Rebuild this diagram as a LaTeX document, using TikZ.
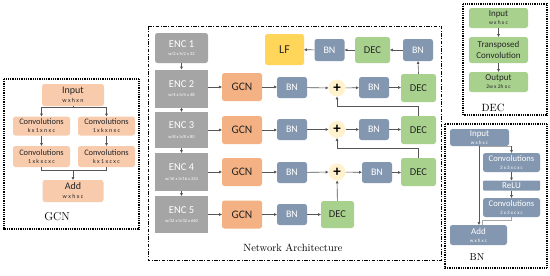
\documentclass[tikz,border=0pt]{standalone}
\usepackage{fontspec}
\newfontfamily\cb{Carlito}
\usetikzlibrary{arrows.meta,calc}
\definecolor{encgray}{HTML}{A5A5A5}
\definecolor{gcnor}{HTML}{F4B183}
\definecolor{gcnlt}{HTML}{F8CBAD}
\definecolor{bnblue}{HTML}{8497B0}
\definecolor{decgr}{HTML}{A9D18E}
\definecolor{lfyel}{HTML}{FFD55A}
\definecolor{plusyel}{HTML}{FFF2CC}
\definecolor{txt}{HTML}{262626}
\definecolor{ln}{HTML}{555555}
\newcommand\fs[1]{\fontsize{#1}{#1}\selectfont}
\newcommand\sublab[2]{{\fontsize{#1}{#1}\selectfont #2}}
\begin{document}
\begin{tikzpicture}[x=1pt,y=-1pt,
  blk/.style={rounded corners=2.5pt,inner sep=0pt,align=center},
  encbox/.style={blk,fill=encgray,text=white,minimum width=53pt,font=\cb\fs{10.5}},
  gcnbox/.style={blk,fill=gcnor,text=txt,minimum width=40pt,minimum height=28pt,font=\cb\fs{11.5}},
  bnbox/.style={blk,fill=bnblue,text=white,minimum width=30pt,minimum height=21pt,font=\cb\fs{10}},
  decbox/.style={blk,fill=decgr,text=txt,minimum width=35pt,minimum height=28pt,font=\cb\fs{10.5}},
  plusnode/.style={circle,fill=plusyel,minimum size=17pt,inner sep=0pt,font=\cb\bfseries\fs{15}},
  arr/.style={draw=ln,line width=0.6pt,-{Triangle[length=2.6pt,width=2.6pt]}},
  lne/.style={draw=ln,line width=0.6pt},
  gsub/.style={blk,fill=gcnlt,text=txt,font=\cb\fs{8.4}},
  dsub/.style={blk,fill=decgr,text=txt,font=\cb\fs{9}},
  bsub/.style={blk,fill=bnblue,text=white,font=\cb\fs{8.6}},
  dotpanel/.style={draw=black,line width=1.3pt,dash pattern=on 0.9pt off 0.9pt},
  title/.style={font=\fs{10.5}}
]
\useasboundingbox (0,0) rectangle (550,276);
\fill[white] (0,0) rectangle (550,276);

% ---------- panels ----------
\draw[draw=black,line width=0.8pt,dash pattern=on 3.5pt off 1.5pt on 1pt off 1.5pt] (148,26) rectangle (441,260);
\draw[dotpanel] (4,79) rectangle (139,229);
\draw[dotpanel] (463,4) rectangle (547,115);
\draw[dotpanel] (445,124) rectangle (547,268);

% ---------- Network architecture ----------
\node[encbox,minimum height=30pt] (e1) at (181.5,48) {ENC 1\\[-2pt]\sublab{4.5}{w/2 x h/2 x 32}};
\node[encbox,minimum height=38pt,rounded corners=0pt] (e2) at (181.5,88.5) {ENC 2\\[-1pt]\sublab{4.5}{w/4 x h/4 x 48}};
\node[encbox,minimum height=36pt,rounded corners=0pt] (e3) at (181.5,130) {ENC 3\\[-1pt]\sublab{4.5}{w/8 x h/8 x 80}};
\node[encbox,minimum height=38pt,rounded corners=0pt] (e4) at (181.5,172) {ENC 4\\[-1pt]\sublab{4.5}{w/16 x h/16 x 224}};
\node[encbox,minimum height=37pt,rounded corners=0pt] (e5) at (181.5,214.5) {ENC 5\\[-1pt]\sublab{4.5}{w/32 x h/32 x 640}};

\node[gcnbox] (g2) at (242,87) {GCN};
\node[gcnbox] (g3) at (242,130) {GCN};
\node[gcnbox] (g4) at (242,172) {GCN};
\node[gcnbox] (g5) at (242,214.5) {GCN};

\node[bnbox] (b2) at (292,87.5) {BN};
\node[bnbox] (b3) at (292,129.5) {BN};
\node[bnbox] (b4) at (292,172.5) {BN};
\node[bnbox] (b5) at (292,214.5) {BN};

\node[plusnode] (p2) at (337,88) {+};
\node[plusnode] (p3) at (337,129.5) {+};
\node[plusnode] (p4) at (337,172) {+};

\node[bnbox] (c2) at (374,87.5) {BN};
\node[bnbox] (c3) at (374,129.5) {BN};
\node[bnbox] (c4) at (377,172.5) {BN};

\node[decbox] (d2) at (418.5,88) {DEC};
\node[decbox] (d3) at (418.5,130) {DEC};
\node[decbox] (d4) at (418.5,172) {DEC};
\node[decbox,minimum width=33pt,minimum height=27pt] (d5) at (337.5,214.5) {DEC};

\node[bnbox,minimum height=22pt] (t1) at (418,50) {BN};
\node[decbox,minimum height=26pt] (t2) at (372.5,50) {DEC};
\node[bnbox,minimum height=22pt] (t3) at (329.5,50) {BN};
\node[blk,fill=lfyel,text=txt,minimum width=39pt,minimum height=31pt,font=\cb\fs{12}] (lf) at (284.5,49.5) {LF};

\node[title] (nat) at (293,248) {Network Architecture};

% encoder chain
\draw[arr] (e1) -- (e2);
\draw[arr] (e2) -- (e3);
\draw[arr] (e3) -- (e4);
\draw[arr] (e4) -- (e5);
% rows
\foreach \r in {2,3,4,5}{
  \draw[arr] (e\r.east |- g\r) -- (g\r);
  \draw[arr] (g\r) -- (g\r -| b\r.west);
}
\foreach \r in {2,3,4}{
  \draw[arr] (b\r) -- (p\r);
  \draw[arr] (p\r) -- (c\r);
  \draw[arr] (c\r) -- (c\r -| d\r.west);
}
\draw[arr] (b5) -- (d5);
\draw[arr] (d5) -- (p4);
\draw[arr] (d4.north) -- ++(0,-10) -| (p3.south);
\draw[arr] (d3.north) -- ++(0,-10) -| (p2.south);
\draw[arr] (d2.north) -- (t1.south);
\draw[arr] (t1) -- (t2);
\draw[arr] (t2) -- (t3);
\draw[arr] (t3) -- (lf);

% ---------- GCN panel ----------
\node[gsub,minimum width=62pt,minimum height=22pt,font=\cb\fs{10}] (gi) at (73,95) {Input\\[-1pt]\sublab{6}{w x h x n}};
\node[gsub,minimum width=57pt,minimum height=19pt] (gc1) at (41.5,126) {Convolutions\\[-0.5pt]\sublab{6}{k x 1 x n x c}};
\node[gsub,minimum width=57pt,minimum height=19pt] (gc2) at (106.5,126) {Convolutions\\[-0.5pt]\sublab{6}{1 x k x n x c}};
\node[gsub,minimum width=57pt,minimum height=21pt] (gc3) at (41.5,156.5) {Convolutions\\[-0.5pt]\sublab{6}{1 x k x c x c}};
\node[gsub,minimum width=57pt,minimum height=21pt] (gc4) at (106.5,156.5) {Convolutions\\[-0.5pt]\sublab{6}{k x 1 x c x c}};
\node[gsub,minimum width=61pt,minimum height=22pt,font=\cb\fs{10}] (ga) at (73,191) {Add\\[-1pt]\sublab{6}{w x h x c}};
\node[title,font=\fs{11.5}] (gl) at (57,217) {GCN};
\coordinate (gsplit) at (73,107.5);
\coordinate (gmerge) at (73,170);
\draw[lne] (gi.south) -- (gsplit);
\draw[arr] (gsplit) -| (gc1.north);
\draw[arr] (gsplit) -| (gc2.north);
\draw[arr] (gc1) -- (gc3);
\draw[arr] (gc2) -- (gc4);
\draw[lne] (gc3.south) |- (gmerge);
\draw[lne] (gc4.south) |- (gmerge);
\draw[arr] (gmerge) -- (ga.north);

% ---------- DEC panel ----------
\node[dsub,minimum width=59pt,minimum height=20pt] (di) at (498.5,18) {Input\\[-1pt]\sublab{5.5}{w x h x c}};
\node[dsub,minimum width=59pt,minimum height=26pt,font=\cb\fontsize{9}{11}\selectfont] (dt) at (498.5,50) {Transposed\\Convolution};
\node[dsub,minimum width=59pt,minimum height=20pt] (do) at (498.5,82) {Output\\[-1pt]\sublab{5.5}{2w x 2h x c}};
\node[title] (dl) at (493,108) {DEC};
\draw[arr] (di) -- (dt);
\draw[arr] (dt) -- (do);

% ---------- BN panel ----------
\node[bsub,minimum width=59pt,minimum height=17pt,font=\cb\fs{9}] (bi) at (479.5,137.5) {Input\\[-1.5pt]\sublab{5}{w x h x c}};
\node[bsub,minimum width=57pt,minimum height=19pt] (bc1) at (511.5,162.5) {Convolutions\\[-1pt]\sublab{5}{3 x 3 x c x c}};
\node[bsub,minimum width=57pt,minimum height=10pt,rounded corners=1pt,font=\cb\fs{9}] (br) at (511.5,185.5) {ReLU};
\node[bsub,minimum width=57pt,minimum height=19pt] (bc2) at (511.5,207.5) {Convolutions\\[-1pt]\sublab{5}{3 x 3 x c x c}};
\node[bsub,minimum width=57pt,minimum height=20pt,font=\cb\fs{9}] (ba) at (478.5,235) {Add\\[-1pt]\sublab{5}{w x h x c}};
\node[title,font=\fs{10}] (bl) at (477,257) {BN};
\coordinate (bsk) at (479,146);
\coordinate (bout) at (482,220);
\draw[lne,draw=gray!70] (bsk) -- (bsk -| bc1.north);
\draw[arr,draw=gray!70!black] (bsk -| bc1.north) -- (bc1.north);
\draw[arr,draw=gray!70!black] (bsk) -- (bsk |- ba.north);
\draw[arr] (bc1) -- (br);
\draw[arr] (br) -- (bc2);
\draw[lne,draw=gray!70] (bc2.south) |- (bout) -- (bout |- ba.north);
\end{tikzpicture}
\end{document}
